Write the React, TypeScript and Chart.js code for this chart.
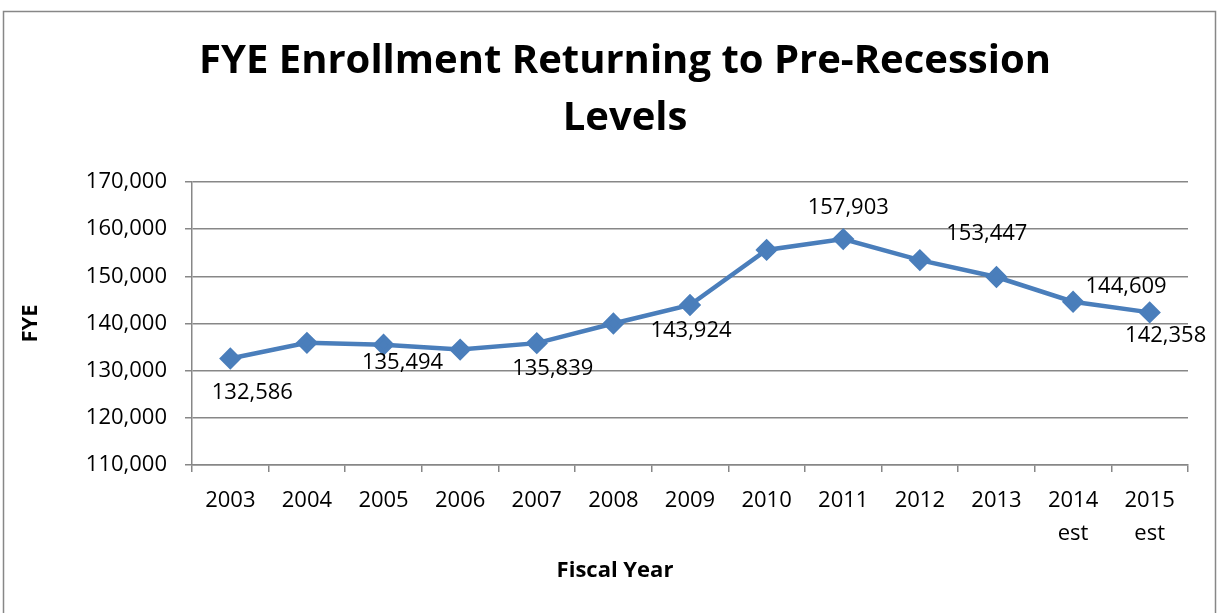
import React, { useEffect, useRef } from "react";
import { Chart, registerables } from "chart.js";

Chart.register(...registerables);

const categories: (string | string[])[] = [
  "2003", "2004", "2005", "2006", "2007", "2008", "2009", "2010", "2011", "2012", "2013",
  ["2014", "est"], ["2015", "est"],
];
const fyeValues = [132586, 135900, 135494, 134470, 135839, 140000, 143924, 155600, 157903, 153447, 149850, 144609, 142358];
const labeledIndexes = [0, 2, 4, 6, 8, 9, 11, 12];
const labelDx = [22, 19, 16, 1, 5, 67, 53, 16];
const labelDy = [34, 18, 26, 26, -31, -26, -15, 23];
const titleLines = ["FYE Enrollment Returning to Pre-Recession", "Levels"];
const xAxisTitle = "Fiscal Year";
const yAxisTitle = "FYE";

const FONT = "'Open Sans', 'DejaVu Sans', sans-serif";
const BLUE = "#4A7EBB";
const GRID = "#878787";

export default function App() {
  const ref = useRef<HTMLCanvasElement | null>(null);
  useEffect(() => {
    if (!ref.current) return;
    const fmt = (v: number) => v.toLocaleString("en-US");
    const chart = new Chart(ref.current, {
      type: "line",
      data: {
        labels: categories,
        datasets: [
          {
            label: "FYE",
            data: fyeValues,
            borderColor: BLUE,
            backgroundColor: BLUE,
            borderWidth: 4.5,
            pointStyle: "rectRot",
            pointRadius: 8,
            pointBackgroundColor: BLUE,
            pointBorderColor: BLUE,
            tension: 0,
          },
        ],
      },
      options: {
        animation: false,
        responsive: false,
        devicePixelRatio: 1,
        layout: { padding: { top: 182, right: 32, left: 0, bottom: 0 } },
        plugins: { legend: { display: false }, tooltip: { enabled: false }, title: { display: false } },
        scales: {
          x: {
            offset: true,
            afterFit: (s: any) => { s.height = 148; },
            grid: { drawOnChartArea: false, offset: true, tickLength: 7, color: GRID, lineWidth: 1.5 },
            border: { color: GRID, width: 1.5 },
            ticks: { color: "#000", font: { family: FONT, size: 22, lineHeight: 1.5 }, padding: 12, maxRotation: 0, autoSkip: false },
            title: { display: false },
          },
          y: {
            min: 110000,
            max: 170000,
            afterFit: (s: any) => { s.width = 192; },
            ticks: { stepSize: 10000, color: "#000", font: { family: FONT, size: 22 }, padding: 18, callback: (v: any) => fmt(Number(v)) },
            grid: { color: GRID, lineWidth: 1.5, tickLength: 7 },
            border: { color: GRID, width: 1.5 },
            title: { display: true, text: yAxisTitle, color: "#000", font: { family: FONT, size: 22, weight: "bold" }, padding: { top: 18, bottom: 0 } },
          },
        },
      },
      plugins: [
        {
          id: "frameAndTitle",
          beforeDraw(c: any) {
            const ctx = c.ctx;
            ctx.save();
            ctx.fillStyle = "#fff";
            ctx.fillRect(0, 0, c.width, c.height);
            ctx.strokeStyle = GRID;
            ctx.lineWidth = 1.5;
            ctx.strokeRect(3.5, 11.5, 1212, 700);
            ctx.fillStyle = "#000";
            ctx.font = `bold 40px ${FONT}`;
            ctx.textAlign = "center";
            ctx.textBaseline = "middle";
            ctx.fillText(titleLines[0], 625, 62);
            ctx.fillText(titleLines[1], 625, 119);
            ctx.font = `bold 22px ${FONT}`;
            ctx.fillText(xAxisTitle, 615, 571);
            ctx.restore();
          },
        },
        {
          id: "dataLabels",
          afterDatasetsDraw(c: any) {
            const ctx = c.ctx;
            const meta = c.getDatasetMeta(0);
            ctx.save();
            ctx.fillStyle = "#000";
            ctx.font = `22px ${FONT}`;
            ctx.textAlign = "center";
            ctx.textBaseline = "middle";
            labeledIndexes.forEach((idx, k) => {
              const p = meta.data[idx];
              ctx.fillText(fmt(fyeValues[idx]), p.x + labelDx[k], p.y + labelDy[k]);
            });
            ctx.restore();
          },
        },
      ],
    } as any);
    return () => chart.destroy();
  }, []);
  return (
    <div style={{ position: "fixed", left: 0, top: 0, width: 1220, height: 613, background: "#fff" }}>
      <canvas ref={ref} width={1220} height={613} style={{ width: 1220, height: 613, display: "block" }} />
    </div>
  );
}
